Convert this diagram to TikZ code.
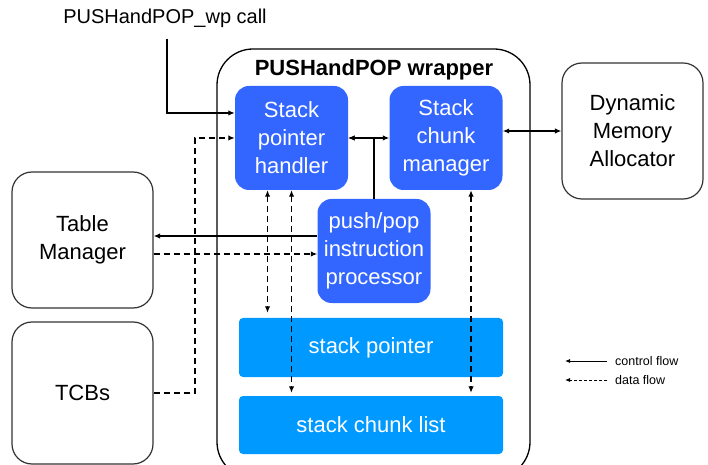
\documentclass[tikz,border=0pt]{standalone}
\usepackage{fontspec}
\setmainfont{Liberation Sans}
\usetikzlibrary{arrows.meta}
\definecolor{unitblue}{HTML}{3366FF}
\definecolor{memblue}{HTML}{0099FF}
\definecolor{boxline}{HTML}{333333}
\begin{document}
\begin{tikzpicture}[x=1bp,y=-1bp]
    % Stili per i blocchi
    \tikzstyle{unit}=[rectangle, fill=unitblue, text=white, align=center, rounded corners=14bp, minimum width=113bp, minimum height=104bp, inner sep=0pt, font=\fontsize{22bp}{28bp}\selectfont]
    \tikzstyle{mem}=[rectangle, fill=memblue, text=white, rounded corners=4bp, minimum width=264bp, minimum height=59bp, inner sep=0pt, font=\fontsize{22bp}{28bp}\selectfont]
    \tikzstyle{outer}=[rectangle, draw=boxline, line width=1.2bp, fill=white, align=center, rounded corners=20bp, minimum width=141bp, minimum height=136bp, inner sep=0pt, font=\fontsize{22bp}{28bp}\selectfont]
    \tikzstyle{ctrl}=[-{Latex[length=6.5bp,width=5.5bp]}, line width=1.9bp]
    \tikzstyle{data}=[-{Latex[length=6.5bp,width=5.5bp]}, line width=1.9bp, dash pattern=on 6bp off 4bp]
    \tikzstyle{both}=[{Latex[length=6.5bp,width=5.5bp]}-{Latex[length=6.5bp,width=5.5bp]}]
    \tikzstyle{legend}=[font=\fontsize{12.5bp}{14bp}\selectfont, anchor=west, inner sep=0pt]

    \useasboundingbox (0,0) rectangle (708,465);

    % Wrapper
    \draw[line width=1.3bp, rounded corners=36bp] (217,49) rectangle (530,478);
    \node[font=\fontsize{22bp}{26bp}\selectfont\bfseries] (title) at (374,70) {PUSHandPOP wrapper};

    % Blocchi interni
    \node[unit] (sph) at (291.5,138) {Stack\\pointer\\handler};
    \node[unit] (scm) at (446,138) {Stack\\chunk\\manager};
    \node[unit] (proc) at (374,251) {push/pop\\instruction\\processor};
    \node[mem] (sp) at (371,347.5) {stack pointer};
    \node[mem, minimum height=58bp] (scl) at (371,425) {stack chunk list};

    % Blocchi esterni
    \node[outer] (tm) at (82.5,240) {Table\\Manager};
    \node[outer, minimum height=142bp] (tcb) at (82.5,393) {TCBs};
    \node[outer] (dma) at (632.5,131) {Dynamic\\Memory\\Allocator};
    \node[font=\fontsize{20bp}{22bp}\selectfont] (call) at (165,18) {PUSHandPOP\_wp call};

    % Flusso di controllo
    \draw[ctrl] ([xshift=2bp,yshift=-8bp]call.south) |- ([yshift=25bp]sph.west);
    \draw[ctrl, both] (sph.east) -- (scm.west);
    \draw[ctrl] (proc.north) |- (sph.east);
    \draw[ctrl] ([yshift=15bp]proc.west) -- ([yshift=15bp]proc.west -| tm.east);
    \draw[ctrl, both] (scm.east |- dma.west) -- (dma.west);

    % Flusso di dati
    \draw[data] (tcb.east) -- ++(41,0) |- (sph.west);
    \draw[data] ([yshift=-14bp]tm.east) -- ([yshift=-14bp]tm.east -| proc.west);
    \draw[data, both, shorten >=5bp] ([xshift=-24bp]sph.south) -- ([xshift=-24bp]sph.south |- sp.north);
    \draw[data, both, shorten >=3bp] (sph.south) -- (sph.south |- scl.north);
    \draw[data, both, shorten >=3bp] ([xshift=25bp]scm.south) -- ([xshift=25bp]scm.south |- scl.north);

    % Legenda
    \node[legend] (lctrl) at (615,361) {control flow};
    \node[legend] (ldata) at (615,380) {data flow};
    \draw[-{Latex[length=5bp,width=4bp]}, line width=0.8bp] ([xshift=-8bp]lctrl.west) -- ++(-42,0);
    \draw[-{Latex[length=5bp,width=4bp]}, line width=0.8bp, dash pattern=on 3bp off 2bp] ([xshift=-8bp]ldata.west) -- ++(-42,0);
\end{tikzpicture}
\end{document}
